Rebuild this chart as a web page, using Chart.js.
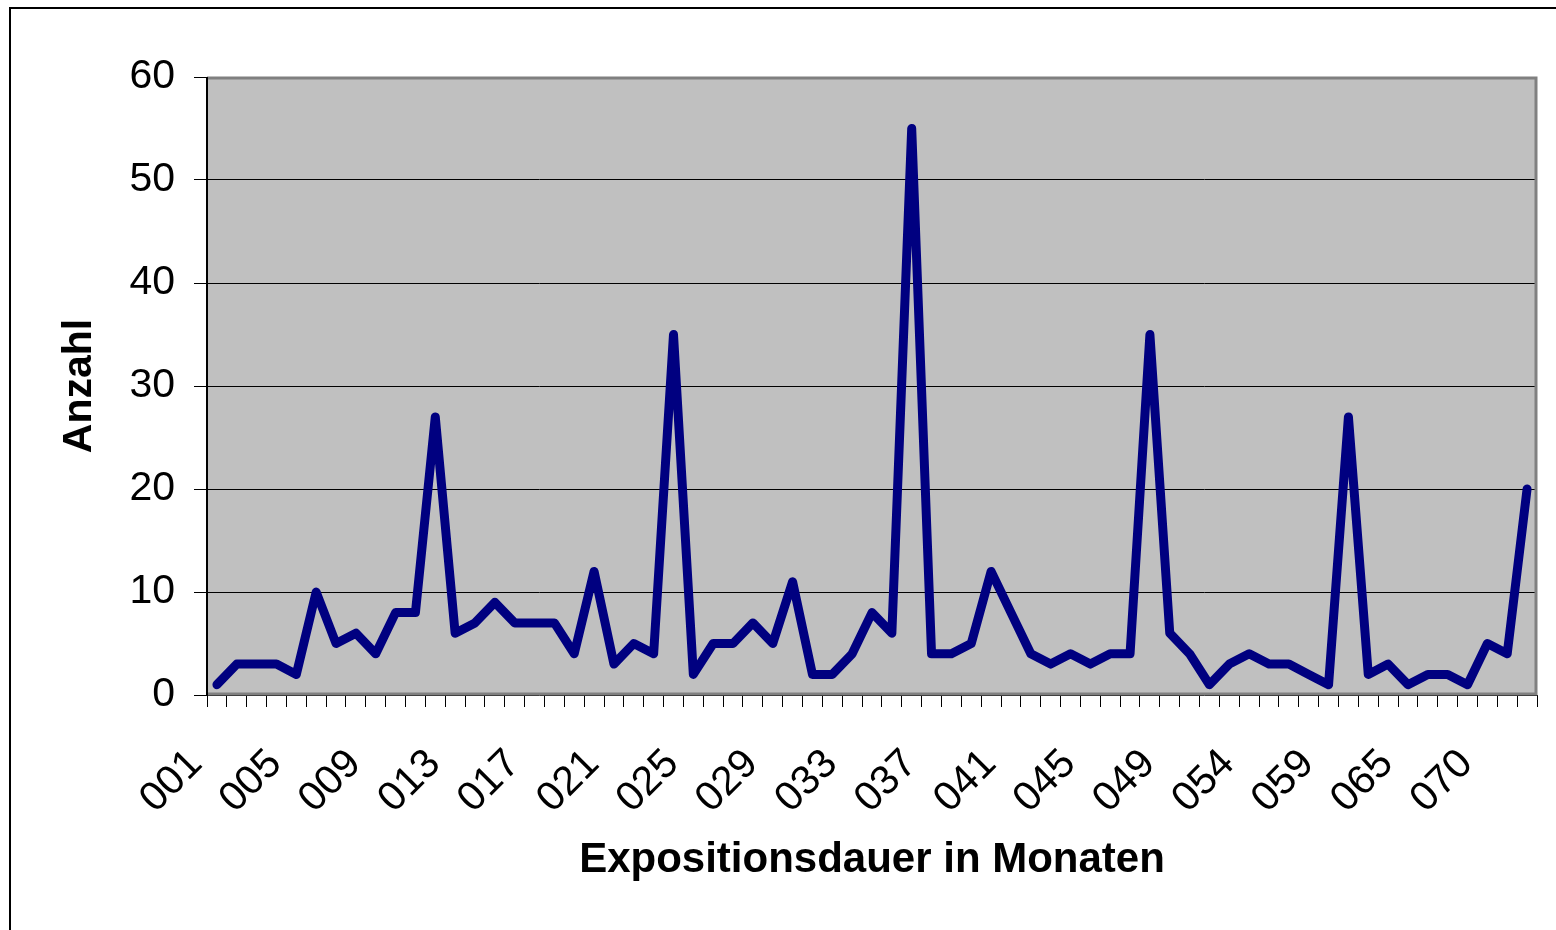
<!DOCTYPE html>
<html>
<head>
<meta charset="utf-8">
<script src="https://cdn.jsdelivr.net/npm/chart.js@4/dist/chart.umd.min.js"></script>
<style>
  html, body { margin: 0; padding: 0; background: #fff; }
  #wrap { position: relative; width: 1556px; height: 930px; }
</style>
</head>
<body>
<div id="wrap"><canvas id="chart"></canvas></div>
<script>
// Kategorien (Expositionsdauer in Monaten)
const monate = [
  '001','002','003','004','005','006','007','008','009','010',
  '011','012','013','014','015','016','017','018','019','020',
  '021','022','023','024','025','026','027','028','029','030',
  '031','032','033','034','035','036','037','038','039','040',
  '041','042','043','044','045','046','047','048','049','050',
  '051','052','054','055','056','057','059','060','061','062',
  '065','066','067','068','070','071','072'
];
// Anzahl je Kategorie
const anzahl = [
  1, 3, 3, 3, 2, 10, 5, 6, 4, 8,
  8, 27, 6, 7, 9, 7, 7, 7, 4, 12,
  3, 5, 4, 35, 2, 5, 5, 7, 5, 11,
  2, 2, 4, 8, 6, 55, 4, 4, 5, 12,
  8, 4, 3, 4, 3, 4, 4, 35, 6, 4,
  1, 3, 4, 3, 3, 2, 1, 27, 2, 3,
  1, 2, 2, 1, 5, 4, 20
];
const yTicks = [0, 10, 20, 30, 40, 50, 60];

const FONT = "'Liberation Sans', Arial, sans-serif";

// Hintergrund, Rahmen der Zeichenfläche und äußerer Rahmen
const excelLook = {
  id: 'excelLook',
  beforeDraw(chart) {
    const { ctx, chartArea: a } = chart;
    ctx.save();
    ctx.fillStyle = '#fff';
    ctx.fillRect(0, 0, chart.width, chart.height);
    // äußerer Diagrammrahmen (rechts/unten abgeschnitten)
    ctx.strokeStyle = '#000';
    ctx.lineWidth = 2;
    ctx.beginPath();
    ctx.moveTo(10, chart.height);
    ctx.lineTo(10, 8);
    ctx.lineTo(chart.width, 8);
    ctx.stroke();
    ctx.fillStyle = '#C0C0C0';
    ctx.fillRect(a.left, a.top, a.right - a.left, a.bottom - a.top);
    ctx.restore();
  },
  afterDatasetsDraw(chart) {
    const { ctx, chartArea: a } = chart;
    ctx.save();
    ctx.strokeStyle = '#808080';
    ctx.lineWidth = 3;
    ctx.beginPath();
    ctx.moveTo(a.left, a.top + 1);
    ctx.lineTo(a.right - 1, a.top + 1);
    ctx.lineTo(a.right - 1, a.bottom - 1);
    ctx.lineTo(a.left, a.bottom - 1);
    ctx.stroke();
    ctx.strokeStyle = '#000';
    ctx.lineWidth = 2;
    ctx.beginPath();
    ctx.moveTo(a.left, a.top);
    ctx.lineTo(a.left, a.bottom + 1);
    ctx.stroke();
    ctx.restore();
  }
};

new Chart(document.getElementById('chart'), {
  type: 'line',
  data: {
    labels: monate,
    datasets: [{
      data: anzahl,
      borderColor: '#000080',
      borderWidth: 9,
      borderJoinStyle: 'round',
      borderCapStyle: 'round',
      pointRadius: 0,
      tension: 0,
      fill: false
    }]
  },
  options: {
    responsive: true,
    maintainAspectRatio: false,
    animation: false,
    layout: { padding: { left: 10, top: 77, right: 19, bottom: 0 } },
    plugins: { legend: { display: false }, tooltip: { enabled: false } },
    scales: {
      x: {
        offset: true,
        grid: { offset: true, drawOnChartArea: false, drawTicks: true, tickLength: 12, color: '#000', lineWidth: 1 },
        border: { display: false },
        ticks: {
          autoSkip: false,
          minRotation: 45,
          maxRotation: 45,
          padding: 33,
          labelOffset: -21,
          color: '#000',
          font: { family: FONT, size: 41 },
          callback: function (v, i) { return i % 4 === 0 ? monate[i] : ''; }
        },
        title: {
          display: true,
          text: 'Expositionsdauer in Monaten',
          color: '#000',
          font: { family: FONT, size: 42, weight: 'bold' },
          padding: { top: 0, bottom: 44 }
        },
        afterFit(scale) {
          scale.height = 235;
          scale.paddingLeft = 0;
          scale.paddingRight = 0;
        }
      },
      y: {
        min: 0,
        max: 60,
        afterBuildTicks(scale) { scale.ticks = yTicks.map(v => ({ value: v })); },
        grid: { color: '#000', lineWidth: 1, tickLength: 13 },
        border: { display: false },
        ticks: {
          padding: 19,
          color: '#000',
          font: { family: FONT, size: 41 }
        },
        title: {
          display: true,
          text: 'Anzahl',
          color: '#000',
          font: { family: FONT, size: 41, weight: 'bold' },
          padding: { top: 45, bottom: 0 }
        },
        afterFit(scale) { scale.width = 197; }
      }
    }
  },
  plugins: [excelLook]
});
</script>
</body>
</html>
